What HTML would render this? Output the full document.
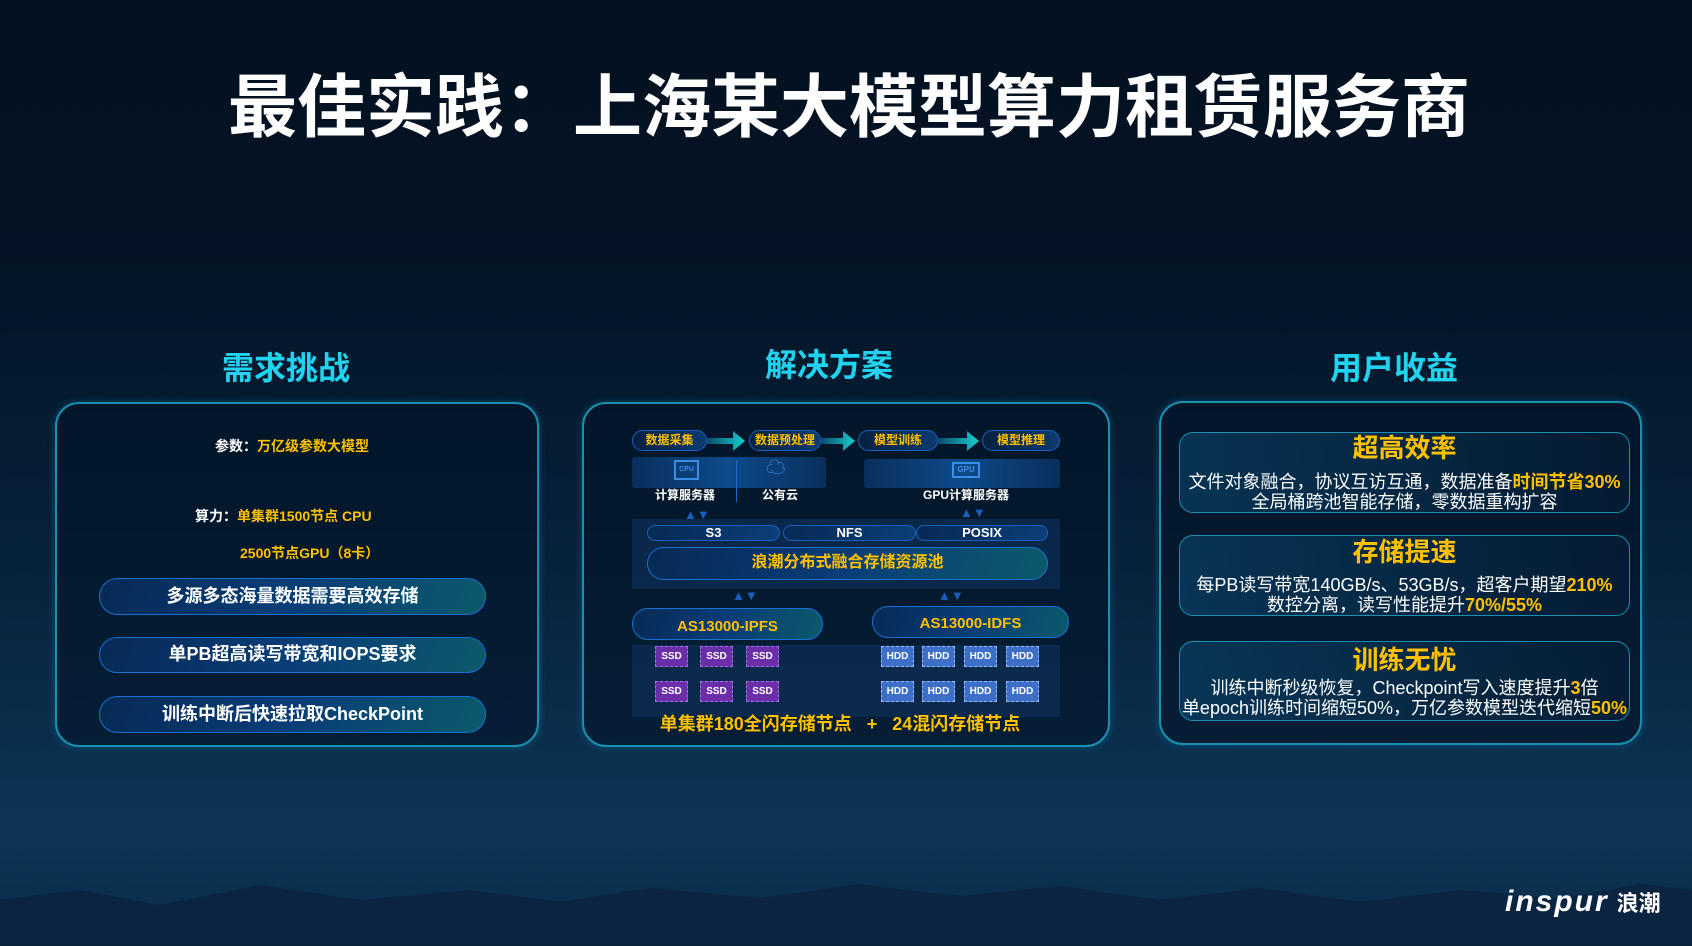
<!DOCTYPE html>
<html><head><meta charset="utf-8"><style>
*{margin:0;padding:0;box-sizing:border-box}
body{width:1692px;height:946px;overflow:hidden;position:relative;font-family:"Liberation Sans","Noto Sans CJK SC",sans-serif;font-weight:bold;
background:linear-gradient(180deg,#03101f 0%,#041527 30%,#07233c 60%,#0c3555 88%,#0a2b48 100%)}
.a{position:absolute}
.c{position:absolute;text-align:center;white-space:nowrap}
.y{color:#ffc000}
.w{color:#fff}
.box{position:absolute;border:2px solid #1a8fb0;border-radius:24px;background:rgba(2,18,36,.55);box-shadow:0 0 8px rgba(0,200,255,.25)}
.pill{position:absolute;border-radius:20px;border:1.5px solid #1a6fd0;background:linear-gradient(110deg,#062a55 0%,#0a3d78 50%,#0b5a6a 100%);color:#fff;text-align:center}
.fp{position:absolute;border-radius:12px;border:1.5px solid #1a5fc0;background:linear-gradient(90deg,#072040,#0c3a70);color:#ffc000;font-size:12px;text-align:center;line-height:19px}
.band{position:absolute;background:linear-gradient(90deg,#0a2f5c,#0d4a8a,#0a2f5c);border-radius:3px}
.pp{position:absolute;border-radius:9px;border:1.5px solid #1a5fc0;background:linear-gradient(90deg,#072a55,#0c3e78);color:#fff;font-size:13px;text-align:center;line-height:14px}
.ssd{position:absolute;width:33px;height:21px;background:#6a2fa8;border:1px dashed #a070e0;color:#fff;font-size:10px;text-align:center;line-height:19px}
.hdd{position:absolute;width:33px;height:21px;background:#3d6fc8;border:1px dashed #90b8ff;color:#fff;font-size:10px;text-align:center;line-height:19px}
.card{position:absolute;left:1179px;width:451px;border:1.5px solid #1a8fb0;border-radius:14px;background:linear-gradient(90deg,rgba(10,70,110,.6),rgba(5,30,55,.5))}
.ct{font-size:26px;color:#ffc000;text-align:center}
.cl{font-size:18px;color:#fff;font-weight:normal;text-align:center;line-height:20px;white-space:nowrap}
.cl b{color:#ffc000}
.ar{position:absolute;color:#1a5fc0;font-size:13px}
</style></head><body>
<svg class="a" style="left:0;top:860px" width="1692" height="86"><path d="M0 40 L80 30 L160 45 L260 25 L360 40 L470 30 L560 42 L650 28 L760 38 L860 24 L960 36 L1060 26 L1160 40 L1260 28 L1360 42 L1460 30 L1560 38 L1640 24 L1692 30 L1692 86 L0 86Z" fill="#0a2440" opacity=".9"/></svg>

<div class="c w" style="left:0;width:1698px;top:66px;font-size:69px;line-height:84px">最佳实践：上海某大模型算力租赁服务商</div>
<div class="c" style="left:186px;width:200px;top:343px;font-size:32px;color:#22d3f0">需求挑战</div>
<div class="c" style="left:729px;width:200px;top:340px;font-size:32px;color:#22d3f0">解决方案</div>
<div class="c" style="left:1294px;width:200px;top:343px;font-size:32px;color:#22d3f0">用户收益</div>

<!-- left -->
<div class="box" style="left:55px;top:402px;width:484px;height:345px"></div>
<div class="c" style="left:192px;width:200px;top:436px;font-size:14px"><span class="w">参数：</span><span class="y">万亿级参数大模型</span></div>
<div class="a" style="left:195px;top:506px;font-size:14px"><span class="w">算力：</span><span class="y">单集群1500节点 CPU</span></div>
<div class="a y" style="left:240px;top:543px;font-size:14px">2500节点GPU（8卡）</div>
<div class="pill" style="left:99px;top:578px;width:387px;height:37px;font-size:18px;line-height:34px">多源多态海量数据需要高效存储</div>
<div class="pill" style="left:99px;top:637px;width:387px;height:36px;font-size:18px;line-height:33px">单PB超高读写带宽和IOPS要求</div>
<div class="pill" style="left:99px;top:696px;width:387px;height:37px;font-size:18px;line-height:34px">训练中断后快速拉取CheckPoint</div>

<!-- middle -->
<div class="box" style="left:582px;top:402px;width:528px;height:345px"></div>
<div class="fp" style="left:632px;top:430px;width:75px;height:21px">数据采集</div>
<div class="fp" style="left:749px;top:430px;width:72px;height:21px">数据预处理</div>
<div class="fp" style="left:858px;top:430px;width:80px;height:21px">模型训练</div>
<div class="fp" style="left:982px;top:430px;width:78px;height:21px">模型推理</div>
<svg class="a" style="left:700px;top:428px" width="300" height="26">
<defs><linearGradient id="g" x1="0" x2="1"><stop offset="0" stop-color="#0b4a6a"/><stop offset="1" stop-color="#16d0d0"/></linearGradient></defs>
<path d="M7 10h26v-7l12 10-12 10v-7H7z" fill="url(#g)"/>
<path d="M121 10h22v-7l12 10-12 10v-7h-22z" fill="url(#g)"/>
<path d="M238 10h29v-7l12 10-12 10v-7h-29z" fill="url(#g)"/>
</svg>
<div class="band" style="left:632px;top:457px;width:194px;height:31px"></div>
<div class="band" style="left:864px;top:459px;width:196px;height:29px"></div>
<div class="a" style="left:736px;top:460px;width:1px;height:42px;background:#1a6ad0"></div>
<div class="a" style="left:674px;top:460px;width:25px;height:20px;border:2px solid #3a8ee8;color:#3a8ee8;font-size:7px;text-align:center;line-height:16px">CPU</div>
<div class="a" style="left:766px;top:458px;width:26px;height:22px;color:#3a8ee8;font-size:20px;line-height:20px">☁</div>
<div class="a" style="left:952px;top:462px;width:28px;height:16px;border:2px solid #3a8ee8;color:#3a8ee8;font-size:8px;text-align:center;line-height:12px">GPU</div>
<div class="c w" style="left:650px;width:70px;top:486px;font-size:12px">计算服务器</div>
<div class="c w" style="left:760px;width:40px;top:486px;font-size:12px">公有云</div>
<div class="c w" style="left:916px;width:100px;top:486px;font-size:12px">GPU计算服务器</div>
<div class="a" style="left:632px;top:519px;width:428px;height:70px;background:rgba(20,60,110,.45)"></div>
<div class="pp" style="left:647px;top:525px;width:133px;height:16px">S3</div>
<div class="pp" style="left:783px;top:525px;width:133px;height:16px">NFS</div>
<div class="pp" style="left:916px;top:525px;width:132px;height:16px">POSIX</div>
<div class="pill" style="left:647px;top:547px;width:401px;height:33px;font-size:16px;line-height:30px;color:#ffc000;border-radius:17px">浪潮分布式融合存储资源池</div>
<div class="ar" style="left:684px;top:507px">▲▼</div>
<div class="ar" style="left:732px;top:588px">▲▼</div>
<div class="ar" style="left:938px;top:588px">▲▼</div>
<div class="ar" style="left:960px;top:505px">▲▼</div>
<div class="pill" style="left:632px;top:608px;width:191px;height:32px;font-size:15px;line-height:36px;color:#ffc000;border-radius:17px">AS13000-IPFS</div>
<div class="pill" style="left:872px;top:606px;width:197px;height:32px;font-size:15px;line-height:34px;color:#ffc000;border-radius:17px">AS13000-IDFS</div>
<div class="a" style="left:632px;top:645px;width:428px;height:72px;background:rgba(20,60,110,.4)"></div>
<div class="ssd" style="left:655px;top:646px">SSD</div><div class="ssd" style="left:700px;top:646px">SSD</div><div class="ssd" style="left:746px;top:646px">SSD</div>
<div class="ssd" style="left:655px;top:681px">SSD</div><div class="ssd" style="left:700px;top:681px">SSD</div><div class="ssd" style="left:746px;top:681px">SSD</div>
<div class="hdd" style="left:881px;top:646px">HDD</div><div class="hdd" style="left:922px;top:646px">HDD</div><div class="hdd" style="left:964px;top:646px">HDD</div><div class="hdd" style="left:1006px;top:646px">HDD</div>
<div class="hdd" style="left:881px;top:681px">HDD</div><div class="hdd" style="left:922px;top:681px">HDD</div><div class="hdd" style="left:964px;top:681px">HDD</div><div class="hdd" style="left:1006px;top:681px">HDD</div>
<div class="c y" style="left:590px;width:500px;top:710px;font-size:18px">单集群180全闪存储节点 &nbsp;&nbsp;+ &nbsp;&nbsp;24混闪存储节点</div>

<!-- right -->
<div class="box" style="left:1159px;top:401px;width:483px;height:344px"></div>
<div class="card" style="top:432px;height:81px">
<div class="ct" style="margin-top:1px;line-height:28px">超高效率</div>
<div class="cl" style="margin-top:10px">文件对象融合，协议互访互通，数据准备<b>时间节省30%</b></div>
<div class="cl">全局桶跨池智能存储，零数据重构扩容</div></div>
<div class="card" style="top:535px;height:81px">
<div class="ct" style="margin-top:2px;line-height:28px">存储提速</div>
<div class="cl" style="margin-top:9px">每PB读写带宽140GB/s、53GB/s，超客户期望<b>210%</b></div>
<div class="cl">数控分离，读写性能提升<b>70%/55%</b></div></div>
<div class="card" style="top:641px;height:80px">
<div class="ct" style="margin-top:4px;line-height:28px">训练无忧</div>
<div class="cl" style="margin-top:4px">训练中断秒级恢复，Checkpoint写入速度提升<b>3</b>倍</div>
<div class="cl">单epoch训练时间缩短50%，万亿参数模型迭代缩短<b>50%</b></div></div>

<div class="a w" style="left:1505px;top:887px;font-size:30px;font-style:italic;letter-spacing:2px;line-height:30px">inspur<span style="font-style:normal;font-size:22px;margin-left:8px;letter-spacing:0">浪潮</span></div>
</body></html>
